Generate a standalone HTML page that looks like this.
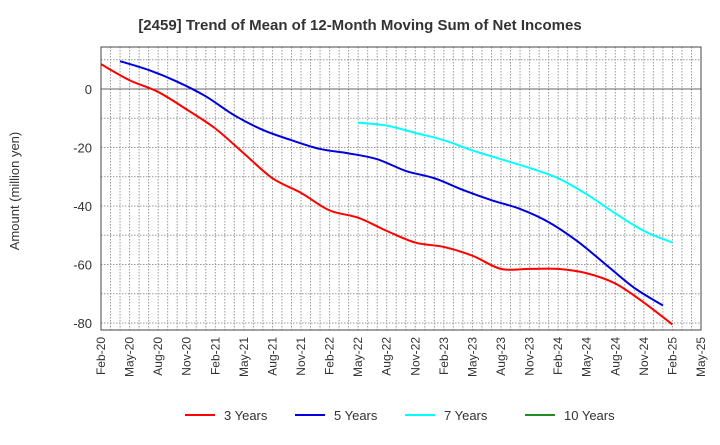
<!DOCTYPE html>
<html><head><meta charset="utf-8"><style>
body{margin:0;background:#fff;font-family:"Liberation Sans",sans-serif;}
svg text{font-family:"Liberation Sans",sans-serif;}
</style></head><body>
<svg id="chart" width="720" height="440" xmlns="http://www.w3.org/2000/svg">
<text x="360" y="30" text-anchor="middle" font-size="15" font-weight="bold" fill="#333">[2459]  Trend of Mean of 12-Month Moving Sum of Net Incomes</text>
<text transform="translate(19,191) rotate(-90)" text-anchor="middle" font-size="13" fill="#333">Amount (million yen)</text>
<g id="grid"></g><g id="series"></g><g id="axes"></g>
<g id="legend"></g>
</svg>
<script>
const xTickLabels=["Feb-20","May-20","Aug-20","Nov-20","Feb-21","May-21","Aug-21","Nov-21","Feb-22","May-22","Aug-22","Nov-22","Feb-23","May-23","Aug-23","Nov-23","Feb-24","May-24","Aug-24","Nov-24","Feb-25","May-25"];
const yTicks=[0,-20,-40,-60,-80];
// quarterly values; start = month offset from Feb-20
const red3=[8.5,3,-1,-7,-13.5,-22,-30.5,-35.5,-41.5,-44,-48.5,-52.5,-54,-57,-61.5,-61.5,-61.5,-63,-66.5,-73,-80.5];
const red3Start=0;
const blue5=[9.5,6.5,2.5,-2.5,-9,-14,-17.5,-20.5,-22,-24,-28,-30.5,-34.5,-38,-41,-45.5,-52,-60,-68,-74];
const blue5Start=2;
const cyan7=[-11.5,-12.5,-15,-17.5,-21,-24,-27,-30.5,-36,-42.5,-48.5,-52.5];
const cyan7Start=27;
const seriesNames=["3 Years","5 Years","7 Years","10 Years"];
const seriesColors=["#ff0000","#0000dd","#00ffff","#228b22"];

const L=101,R=701,T=47,B=330,months=63;
const X=m=>L+(R-L)*m/months;
const Y=v=>89-v*2.925;
const NS="http://www.w3.org/2000/svg";
function mk(tag,attrs,parent){const e=document.createElementNS(NS,tag);for(const k in attrs)e.setAttribute(k,attrs[k]);parent.appendChild(e);return e;}
const grid=document.getElementById('grid'),axes=document.getElementById('axes'),ser=document.getElementById('series'),leg=document.getElementById('legend');
for(let m=1;m<months;m++){const l=mk('line',{x1:X(m),x2:X(m),y1:T,y2:B,stroke:'#999','stroke-dasharray':'1.5,1.5','stroke-width':1},grid);

}
for(let v=10;v>=-80;v-=10){const g=mk('line',{x1:L,x2:R,y1:Y(v),y2:Y(v),stroke:v===0?'#666':'#999','stroke-dasharray':v===0?'':'1.5,1.5','stroke-width':1},grid);

}
const frame=mk('rect',{x:L,y:T,width:R-L,height:B-T,fill:'none',stroke:'#444','stroke-width':1},axes);


yTicks.forEach(v=>{const t=mk('text',{x:L-9,y:Y(v)+5,'text-anchor':'end','font-size':13,fill:'#333'},axes);t.textContent=v;

});
xTickLabels.forEach((s,i)=>{const x=X(i*3);const t=mk('text',{transform:`translate(${x+4},${B+7}) rotate(-90)`,'text-anchor':'end','font-size':12,fill:'#333'},axes);t.textContent=s;

});
function path(vals,start){const p=vals.map((v,i)=>[X(start+i*3),Y(v)]);let d=`M${p[0][0]},${p[0][1]}`;
for(let i=0;i<p.length-1;i++){const p0=p[i-1]||p[i],p1=p[i],p2=p[i+1],p3=p[i+2]||p2;
d+=` C${p1[0]+(p2[0]-p0[0])/6},${p1[1]+(p2[1]-p0[1])/6} ${p2[0]-(p3[0]-p1[0])/6},${p2[1]-(p3[1]-p1[1])/6} ${p2[0]},${p2[1]}`;}return d;}
[[red3,red3Start,0,'line-3-years'],[blue5,blue5Start,1,'line-5-years'],[cyan7,cyan7Start,2,'line-7-years']].forEach(([v,s,c,n])=>{
const e=mk('path',{d:path(v,s),fill:'none',stroke:seriesColors[c],'stroke-width':2},ser);

});
const lx=[185,295,405,525];
seriesNames.forEach((n,i)=>{const l=mk('line',{x1:lx[i],x2:lx[i]+30,y1:415,y2:415,stroke:seriesColors[i],'stroke-width':2},leg);


const t=mk('text',{x:lx[i]+39,y:420,'font-size':13,fill:'#333'},leg);t.textContent=n;

});
</script>
</body></html>
